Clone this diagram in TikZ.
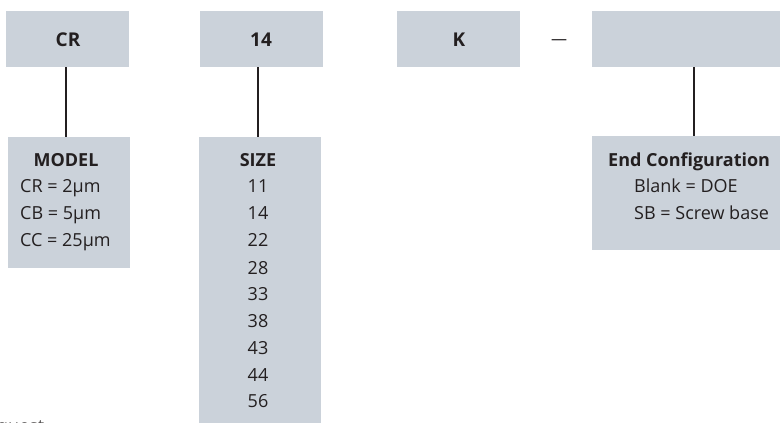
\documentclass[tikz,border=0pt]{standalone}
\usepackage{fontspec}
\setmainfont{Open Sans}
\definecolor{boxfill}{RGB}{203,210,218}
\definecolor{txt}{RGB}{35,31,32}
\definecolor{ln}{RGB}{35,31,32}
\begin{document}
\begin{tikzpicture}[x=1pt,y=-1pt,
  codebox/.style={fill=boxfill,draw=none,inner sep=0pt,minimum width=123pt,minimum height=56pt},
  lbl/.style={text=txt,inner sep=0pt,font=\fontsize{18}{22}\selectfont},
  hdr/.style={lbl,font=\fontsize{18}{22}\selectfont\bfseries},
  conn/.style={draw=ln,line width=2pt}]
\useasboundingbox (0,0) rectangle (780,423);
% top code boxes
\node[codebox] (crbox) at (67.5,39) {};
\node[codebox] (szbox) at (261.5,39) {};
\node[codebox] (kbox) at (458.5,39) {};
\node[codebox,minimum width=204pt] (endbox) at (694,39) {};
\node[hdr,anchor=base,font=\fontsize{19}{22}\selectfont\bfseries] (crtxt) at (68,46) {CR};
\node[hdr,anchor=base,font=\fontsize{19}{22}\selectfont\bfseries] (sztxt) at (261,46) {14};
\node[hdr,anchor=base,font=\fontsize{19}{22}\selectfont\bfseries] (ktxt) at (459,46) {K};
\node[lbl,anchor=base,font=\fontsize{16}{20}\selectfont] (dash) at (559,44) {—};
% description boxes
\node[fill=boxfill,inner sep=0pt,minimum width=122pt,minimum height=131pt] (modelbox) at (69,202.5) {};
\node[fill=boxfill,inner sep=0pt,minimum width=122pt,minimum height=293pt] (sizebox) at (260,283.5) {};
\node[fill=boxfill,inner sep=0pt,minimum width=204pt,minimum height=114pt] (endcfg) at (694,193) {};
% connectors
\draw[conn] ([xshift=-1.5pt]crbox.south) -- ([xshift=-1.5pt]crbox.south |- modelbox.north);
\draw[conn] ([xshift=-3.5pt]szbox.south) -- ([xshift=-3.5pt]szbox.south |- sizebox.north);
\draw[conn] (endbox.south) -- (endcfg.north);
% model text
\node[hdr,anchor=base] (mhdr) at (66,166.5) {MODEL};
\node[lbl,anchor=base west] (m1) at (20,192) {CR = 2µm};
\node[lbl,anchor=base west] (m2) at (20,219) {CB = 5µm};
\node[lbl,anchor=base west] (m3) at (20,246.5) {CC = 25µm};
% size text
\node[hdr,anchor=base] (shdr) at (258,166.5) {SIZE};
\foreach \v/\yy in {11/192,14/219,22/246,28/274,33/300.5,38/327.5,43/354,44/381,56/407.5}
  \node[lbl,anchor=base] (s\v) at (258,\yy) {\v};
% end configuration text
\node[hdr,anchor=base west] (ehdr) at (608,166) {End Configuration};
\node[lbl,anchor=base west] (e1) at (634,192) {Blank = DOE};
\node[lbl,anchor=base west] (e2) at (634,219) {SB = Screw base};
% clipped note
\node[lbl,anchor=base west,text=txt!80] (note) at (-3,432) {quest};
\end{tikzpicture}
\end{document}
